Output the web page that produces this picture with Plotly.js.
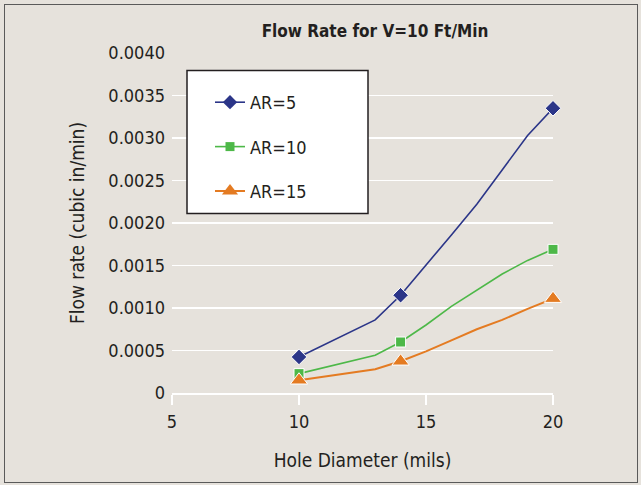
<!DOCTYPE html>
<html>
<head>
<meta charset="utf-8">
<script src="https://cdn.plot.ly/plotly-3.0.1.min.js"></script>
<style>
  html, body { margin: 0; padding: 0; background: #e6e2dc; }
  #wrap { position: relative; width: 641px; height: 485px; }
  #chart { width: 641px; height: 485px; }
  #frame { position: absolute; left: 4px; top: 4px; width: 634px; height: 479px;
           box-sizing: border-box; border: 1.5px solid #5a5a5a; pointer-events: none; }
</style>
</head>
<body>
<div id="wrap"><div id="chart"></div><div id="frame"></div></div>
<script>
// Hole diameter (mils) sample positions of the drawn lines
const diameter = [10, 13, 14, 15, 16, 17, 18, 19, 20];
// Diameters that carry a marker
const markedDiameters = [10, 14, 20];

// Flow rate (cubic in/min)
const ar5  = [0.000424, 0.00086, 0.00115, 0.00150, 0.00186, 0.00222, 0.00262, 0.00303, 0.00335];
const ar10 = [0.000228, 0.000444, 0.00060, 0.00080, 0.00102, 0.00121, 0.00140, 0.00156, 0.00169];
const ar15 = [0.000150, 0.000280, 0.000373, 0.00049, 0.00062, 0.00075, 0.00086, 0.00099, 0.00111];

const seriesNames = ["AR=5", "AR=10", "AR=15"];

const yTickVals = [0, 0.0005, 0.0010, 0.0015, 0.0020, 0.0025, 0.0030, 0.0035, 0.0040];
const yTickText = ["0", "0.0005", "0.0010", "0.0015", "0.0020", "0.0025", "0.0030", "0.0035", "0.0040"];
const xTickVals = [5, 10, 15, 20];

const colors = ["#2b3588", "#4db848", "#e47b22"];
const symbols = ["diamond", "square", "triangle-up"];
const msizes = [12, 10, 15];
const lwidths = [1.6, 1.6, 2];

const FONT = "'DejaVu Sans Condensed', 'Liberation Sans Narrow', 'Arial Narrow', sans-serif";

const series = [ar5, ar10, ar15];
const traces = [];
series.forEach((vals, i) => {
  traces.push({
    x: diameter, y: vals, type: "scatter", mode: "lines+markers",
    name: seriesNames[i], showlegend: false, legendgroup: "g" + i,
    cliponaxis: false,
    line: { color: colors[i], width: lwidths[i] },
    marker: {
      symbol: symbols[i], color: colors[i], opacity: 1,
      size: diameter.map(d => markedDiameters.includes(d) ? msizes[i] : 0)
    }
  });
});
// legend samples (no data points)
series.forEach((vals, i) => {
  traces.push({
    x: [null], y: [null], type: "scatter", mode: "lines+markers",
    name: seriesNames[i], showlegend: true, legendgroup: "g" + i,
    line: { color: colors[i], width: lwidths[i] },
    marker: { symbol: symbols[i], color: colors[i], size: msizes[i] - 1 }
  });
});

// legend box geometry (pixels) converted to paper fractions
const PL = 172, PT = 53, PW = 381, PH = 340;
const px = v => (v - PL) / PW;
const py = v => (PT + PH - v) / PH;

const layout = {
  width: 641, height: 485,
  paper_bgcolor: "#e6e2dc", plot_bgcolor: "#e6e2dc",
  margin: { l: PL, r: 641 - PL - PW, t: PT, b: 485 - PT - PH },
  font: { family: FONT, size: 18, color: "#231f20" },
  title: {
    text: "<b>Flow Rate for V=10 Ft/Min</b>",
    font: { family: FONT, size: 17, color: "#231f20" },
    xref: "container", x: 375 / 641, xanchor: "center",
    yref: "container", y: 1 - 31 / 485, yanchor: "middle"
  },
  xaxis: {
    range: [5, 20], tickvals: xTickVals, showgrid: false, zeroline: false,
    showline: true, linecolor: "#ffffff", linewidth: 1.5,
    ticks: "outside", ticklen: 10, tickcolor: "#ffffff", tickwidth: 1.5,
    ticklabelstandoff: 2,
    title: { text: "Hole Diameter (mils)", standoff: 22, font: { size: 19 } }
  },
  yaxis: {
    range: [0, 0.004], tickvals: yTickVals, ticktext: yTickText,
    showgrid: true, gridcolor: "#ffffff", gridwidth: 1.5, zeroline: false,
    showline: false, ticks: "", ticklabelstandoff: 6,
    title: { text: "Flow rate (cubic in/min)", standoff: 18, font: { size: 19 } }
  },
  shapes: [{
    type: "rect", xref: "paper", yref: "paper", layer: "above",
    x0: px(187), x1: px(368), y0: py(213.5), y1: py(70.5),
    fillcolor: "#ffffff", line: { color: "#231f20", width: 1.5 }
  }],
  showlegend: true,
  legend: {
    x: px(210), xanchor: "left",
    y: py(84), yanchor: "top",
    bgcolor: "rgba(0,0,0,0)", borderwidth: 0,
    font: { family: FONT, size: 18, color: "#231f20" },
    traceorder: "grouped",
    tracegroupgap: 18
  }
};

Plotly.newPlot("chart", traces, layout, { displayModeBar: false, staticPlot: true });
</script>
</body>
</html>
